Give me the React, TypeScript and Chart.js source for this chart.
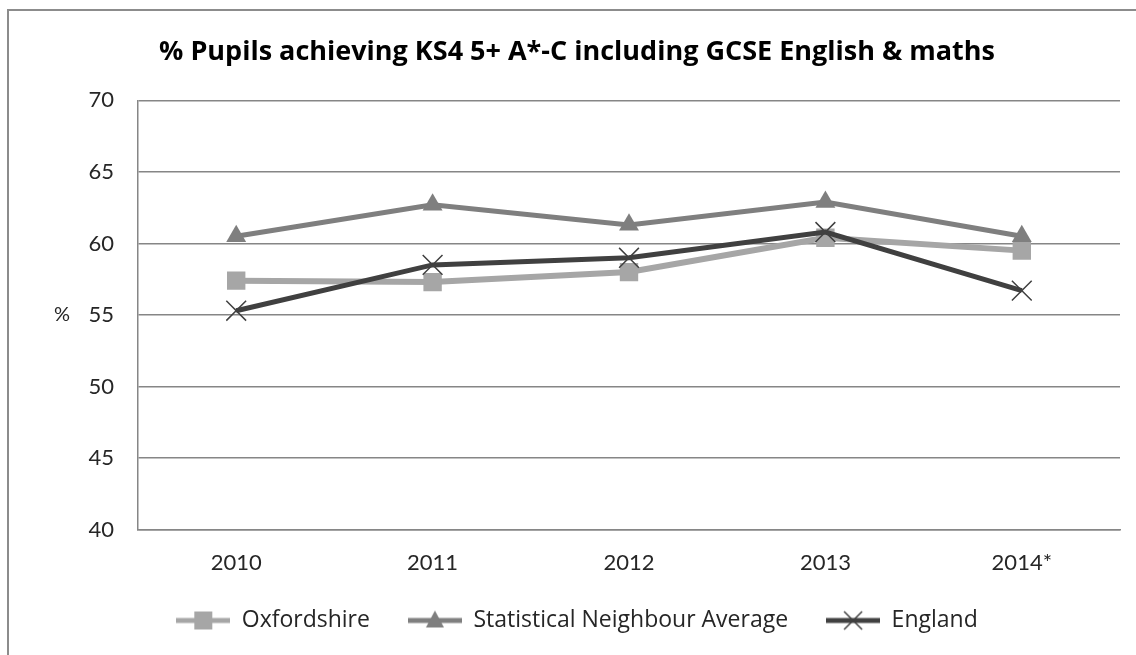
import React, { useEffect, useRef } from "react";
import { Chart, registerables } from "chart.js";

Chart.register(...registerables);

const categories = ["2010", "2011", "2012", "2013", "2014*"];
const oxfordshire = [57.4, 57.3, 58.0, 60.4, 59.5];
const statNeighbour = [60.5, 62.7, 61.3, 62.9, 60.5];
const england = [55.3, 58.5, 59.0, 60.8, 56.7];
const seriesNames = ["Oxfordshire", "Statistical Neighbour Average", "England"];
const titleText = "% Pupils achieving KS4 5+ A*-C including GCSE English & maths";

const COL_OX = "#a6a6a6";
const COL_SN = "#7f7f7f";
const COL_EN = "#404040";
const FONT = "Lato, 'Open Sans', sans-serif";
const FONT_WIDE = "'Open Sans', Lato, sans-serif";

function makeLegendIcon(color: string, style: string): HTMLCanvasElement {
  const c = document.createElement("canvas");
  c.width = 54;
  c.height = 24;
  const ctx = c.getContext("2d")!;
  ctx.strokeStyle = color;
  ctx.lineWidth = 5;
  ctx.beginPath();
  ctx.moveTo(0, 12);
  ctx.lineTo(54, 12);
  ctx.stroke();
  const cx = 27, cy = 12;
  if (style === "rect") {
    ctx.fillStyle = color;
    ctx.fillRect(cx - 9, cy - 9, 18, 18);
  } else if (style === "triangle") {
    ctx.fillStyle = color;
    ctx.beginPath();
    ctx.moveTo(cx, cy - 10);
    ctx.lineTo(cx + 9, cy + 7);
    ctx.lineTo(cx - 9, cy + 7);
    ctx.closePath();
    ctx.fill();
  } else {
    ctx.strokeStyle = color;
    ctx.lineWidth = 1.5;
    ctx.beginPath();
    ctx.moveTo(cx - 9, cy - 9);
    ctx.lineTo(cx + 9, cy + 9);
    ctx.moveTo(cx + 9, cy - 9);
    ctx.lineTo(cx - 9, cy + 9);
    ctx.stroke();
  }
  return c;
}

const percentLabel = {
  id: "percentLabel",
  afterDraw(chart: any) {
    const ctx = chart.ctx;
    const y = chart.scales.y;
    ctx.save();
    ctx.font = `20px ${FONT}`;
    ctx.fillStyle = "#262626";
    ctx.textAlign = "center";
    ctx.textBaseline = "middle";
    ctx.fillText("%", 62, y.getPixelForValue(55));
    ctx.restore();
  },
};

export default function App() {
  const ref = useRef<HTMLCanvasElement>(null);
  useEffect(() => {
    if (!ref.current) return;
    const icons = [
      makeLegendIcon(COL_OX, "rect"),
      makeLegendIcon(COL_SN, "triangle"),
      makeLegendIcon(COL_EN, "cross"),
    ];
    const chart = new Chart(ref.current, {
      type: "line",
      data: {
        labels: categories,
        datasets: [
          {
            label: seriesNames[0],
            data: oxfordshire,
            borderColor: COL_OX,
            backgroundColor: COL_OX,
            borderWidth: 6,
            pointStyle: "rect",
            pointRadius: 13,
            pointBorderWidth: 0,
            pointBackgroundColor: COL_OX,
            order: 2,
          },
          {
            label: seriesNames[1],
            data: statNeighbour,
            borderColor: COL_SN,
            backgroundColor: COL_SN,
            borderWidth: 5,
            pointStyle: "triangle",
            pointRadius: 11.5,
            pointBorderWidth: 0,
            pointBackgroundColor: COL_SN,
            order: 1,
          },
          {
            label: seriesNames[2],
            data: england,
            borderColor: COL_EN,
            backgroundColor: COL_EN,
            borderWidth: 5,
            pointStyle: "crossRot",
            pointRadius: 14,
            pointBorderWidth: 1.5,
            pointBorderColor: COL_EN,
            order: 0,
          },
        ],
      },
      options: {
        animation: false,
        responsive: true,
        maintainAspectRatio: false,
        layout: { padding: { left: 34, right: 16, top: 10, bottom: 13 } },
        plugins: {
          tooltip: { enabled: false },
          title: {
            display: true,
            text: titleText,
            color: "#000000",
            font: { family: FONT_WIDE, size: 27, weight: "bold" },
            padding: { top: 26, bottom: 32 },
          },
          legend: {
            position: "bottom",
            labels: {
              usePointStyle: true,
              pointStyleWidth: 54,
              boxHeight: 21,
              padding: 38,
              color: "#262626",
              font: { family: FONT_WIDE, size: 23 },
              generateLabels: () =>
                seriesNames.map((n, i) => ({
                  text: n,
                  pointStyle: icons[i],
                  fillStyle: "transparent",
                  strokeStyle: "transparent",
                  lineWidth: 0,
                  hidden: false,
                  datasetIndex: i,
                  fontColor: "#262626",
                })),
            },
          },
        },
        scales: {
          x: {
            offset: true,
            grid: { display: false, drawTicks: false },
            border: { display: true, color: "#868686", width: 1.5 },
            ticks: {
              color: "#262626",
              font: { family: FONT, size: 22 },
              padding: 20,
            },
            afterFit: (s: any) => {
              s.height = s.height - 25;
            },
          },
          y: {
            min: 40,
            max: 70,
            ticks: {
              stepSize: 5,
              color: "#262626",
              font: { family: FONT, size: 22 },
              padding: 24,
            },
            grid: { color: "#868686", lineWidth: 1.5, drawTicks: false },
            border: { display: true, color: "#868686", width: 1.5 },
            afterFit: (s: any) => {
              s.width = 104;
            },
          },
        },
      },
      plugins: [percentLabel],
    });
    return () => chart.destroy();
  }, []);

  return (
    <div
      style={{
        position: "fixed",
        left: 0,
        top: 0,
        width: 1136,
        height: 655,
        background: "#ffffff",
        overflow: "hidden",
      }}
    >
      <div
        style={{
          position: "absolute",
          left: 7,
          top: 9,
          width: 1200,
          height: 700,
          borderLeft: "2px solid #8c8c8c",
          borderTop: "2px solid #8c8c8c",
        }}
      />
      <div style={{ position: "absolute", left: 0, top: 0, width: 1136, height: 655 }}>
        <canvas ref={ref} />
      </div>
    </div>
  );
}
